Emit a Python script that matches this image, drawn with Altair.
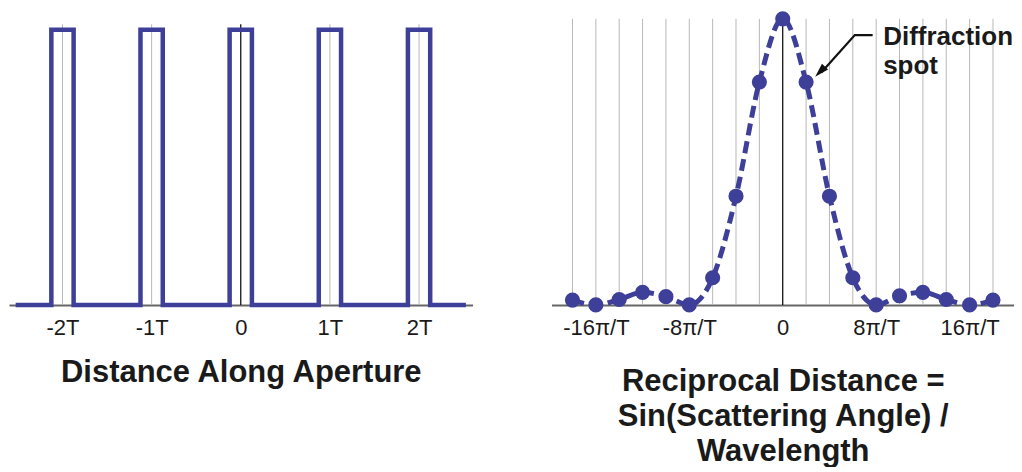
import altair as alt
import pandas as pd

# ---------------- data ----------------
# Left panel: aperture (pulse train)
pulse_left_edges = [-2.125, -1.125, -0.125, 0.875, 1.875]
pulse_right_edges = [-1.875, -0.875, 0.125, 1.125, 2.125]
pulse_heights = [1.0, 1.0, 1.0, 1.0, 1.0]
trace_start = -2.5
trace_end = 2.5
left_ticks = [-2, -1, 0, 1, 2]
left_grid_top = 1.02

# Right panel: diffraction pattern (x in units of pi/T)
spot_x = [-18, -16, -14, -12, -10, -8, -6, -4, -2, 0, 2, 4, 6, 8, 10, 12, 14, 16, 18]
spot_y = [0.017, 0.0, 0.019, 0.044, 0.029, 0.0, 0.095, 0.38, 0.779, 1.0,
          0.779, 0.38, 0.095, 0.0, 0.032, 0.044, 0.019, 0.0, 0.017]
right_ticks = [-16, -8, 0, 8, 16]
right_grid_top = 1.0

# annotation (data units of right panel)
arrow_x = [7.70, 6.17, 3.3]
arrow_y = [0.943, 0.943, 0.812]
arrowhead_x = [3.2]
arrowhead_y = [0.815]
note_lines = ["Diffraction", "spot"]
note_x = [8.6, 8.6]
note_y = [0.909, 0.808]

BLUE = "#3d3f98"
GRID = "#b8b8b8"
TXT = "#1a1a1a"
FONT = "Liberation Sans"

# ---------------- left panel ----------------
xs = [trace_start]
ys = [0.0]
for a, b, h in zip(pulse_left_edges, pulse_right_edges, pulse_heights):
    xs += [a, a, b, b]
    ys += [0.0, h, h, 0.0]
xs.append(trace_end)
ys.append(0.0)
pulse_df = pd.DataFrame({"x": xs, "y": ys, "i": list(range(len(xs)))})

lgrid_df = pd.DataFrame({"x": left_ticks, "y0": [0.0] * len(left_ticks),
                         "top": [left_grid_top] * len(left_ticks)})


def lx(field="x"):
    return alt.X(
        f"{field}:Q",
        scale=alt.Scale(domain=[-2.6, 2.6], nice=False, zero=False),
        axis=alt.Axis(
            values=left_ticks,
            labelExpr="datum.value == 0 ? '0' : datum.value + 'T'",
            title="Distance Along Aperture",
            titleY=77,
        ),
    )


ly_scale = alt.Scale(domain=[0, 1.071], nice=False)

lgrid = alt.Chart(lgrid_df).transform_filter("datum.x != 0").mark_rule(
    color=GRID, strokeWidth=1
).encode(x=lx(), y=alt.Y("y0:Q", scale=ly_scale, axis=None), y2="top:Q")

lzero = alt.Chart(lgrid_df).transform_filter("datum.x == 0").mark_rule(
    color="#000000", strokeWidth=1.2
).encode(x=lx(), y=alt.Y("y0:Q", scale=ly_scale, axis=None), y2="top:Q")

pulse = alt.Chart(pulse_df).mark_line(
    color=BLUE, strokeWidth=4.5, strokeJoin="miter", strokeCap="square"
).encode(x=lx(), y=alt.Y("y:Q", scale=ly_scale, axis=None), order="i:Q")

left = alt.layer(lgrid, lzero, pulse).properties(width=464, height=295)

# ---------------- right panel ----------------
spots_df = pd.DataFrame({"x": spot_x, "y": spot_y})
rgrid_df = pd.DataFrame({"x": spot_x, "y0": [0.0] * len(spot_x),
                         "top": [right_grid_top] * len(spot_x)})
arrow_df = pd.DataFrame({"x": arrow_x, "y": arrow_y, "i": list(range(len(arrow_x)))})
head_df = pd.DataFrame({"x": arrowhead_x, "y": arrowhead_y})
note_df = pd.DataFrame({"x": note_x, "y": note_y, "t": note_lines})


def rx(field="x"):
    return alt.X(
        f"{field}:Q",
        scale=alt.Scale(domain=[-19.8, 19.8], nice=False, zero=False),
        axis=alt.Axis(
            values=right_ticks,
            labelExpr="datum.value == 0 ? '0' : datum.value + 'π/T'",
            title=["Reciprocal Distance =", "Sin(Scattering Angle) /", "Wavelength"],
            titleY=86,
        ),
    )


ry_scale = alt.Scale(domain=[0, 1.030], nice=False)

rgrid = alt.Chart(rgrid_df).transform_filter("datum.x != 0").mark_rule(
    color=GRID, strokeWidth=1
).encode(x=rx(), y=alt.Y("y0:Q", scale=ry_scale, axis=None), y2="top:Q")

rzero = alt.Chart(rgrid_df).transform_filter("datum.x == 0").mark_rule(
    color="#000000", strokeWidth=1.2
).encode(x=rx(), y=alt.Y("y0:Q", scale=ry_scale, axis=None), y2="top:Q")

curve = alt.Chart(spots_df).mark_line(
    color=BLUE, strokeWidth=5, strokeDash=[12, 6], interpolate="monotone"
).encode(x=rx(), y=alt.Y("y:Q", scale=ry_scale, axis=None))

dots = alt.Chart(spots_df).mark_point(
    filled=True, color=BLUE, size=230, opacity=1
).encode(x=rx(), y=alt.Y("y:Q", scale=ry_scale, axis=None))

arrow = alt.Chart(arrow_df).mark_line(color="#111111", strokeWidth=2.2).encode(
    x=rx(), y=alt.Y("y:Q", scale=ry_scale, axis=None), order="i:Q"
)

head = alt.Chart(head_df).mark_point(
    shape="M0,-1L0.6,1L-0.6,1Z", filled=True, color="#111111", size=200,
    angle=224, opacity=1
).encode(x=rx(), y=alt.Y("y:Q", scale=ry_scale, axis=None))

note = alt.Chart(note_df).mark_text(
    font=FONT, fontSize=26, fontWeight="bold", color=TXT, align="left",
    baseline="alphabetic"
).encode(x=rx(), y=alt.Y("y:Q", scale=ry_scale, axis=None), text="t:N")

right = alt.layer(rgrid, rzero, curve, dots, arrow, head, note).properties(
    width=463, height=295
)

chart = alt.hconcat(left, right, spacing=78).properties(padding=0).configure_view(
    stroke=None
).configure_axis(
    grid=False,
    ticks=False,
    domainColor="#666666",
    domainWidth=2,
    labelFont=FONT,
    labelFontSize=22,
    labelColor=TXT,
    labelBaseline="alphabetic",
    labelPadding=30,
    titleFont=FONT,
    titleFontSize=31,
    titleFontWeight="bold",
    titleColor=TXT,
    titleBaseline="alphabetic",
    titleLineHeight=35,
)

chart.save("out.html", embed_options={"renderer": "svg", "actions": False})
